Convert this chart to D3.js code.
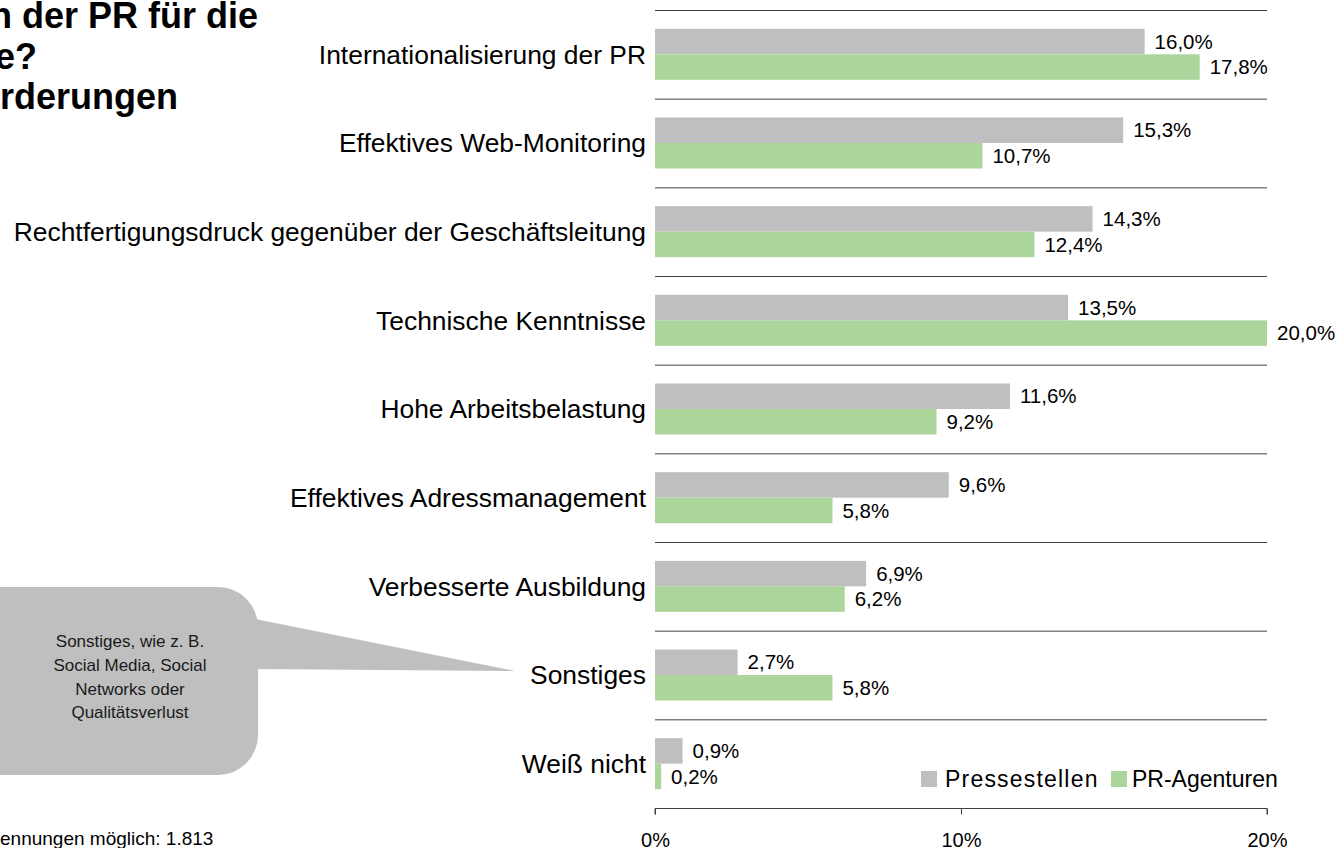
<!DOCTYPE html>
<html><head><meta charset="utf-8">
<script src="https://cdn.jsdelivr.net/npm/d3@7"></script>
<style>
html,body{margin:0;padding:0;background:#fff;overflow:hidden}
svg{display:block;font-family:"Liberation Sans",Arial,sans-serif}
</style></head>
<body>
<svg id="chart" width="1344" height="848"></svg>
<script>
const categories = [
  "Internationalisierung der PR",
  "Effektives Web-Monitoring",
  "Rechtfertigungsdruck gegenüber der Geschäftsleitung",
  "Technische Kenntnisse",
  "Hohe Arbeitsbelastung",
  "Effektives Adressmanagement",
  "Verbesserte Ausbildung",
  "Sonstiges",
  "Weiß nicht"
];
const pressestellen = [16.0, 15.3, 14.3, 13.5, 11.6, 9.6, 6.9, 2.7, 0.9];
const agenturen     = [17.8, 10.7, 12.4, 20.0, 9.2, 5.8, 6.2, 5.8, 0.2];
const seriesNames = ["Pressestellen", "PR-Agenturen"];
const xTicks = [0, 10, 20];
const titleLines = ["n der PR für die", "e?", "rderungen"];
const calloutLines = ["Sonstiges, wie z. B.", "Social Media, Social", "Networks oder", "Qualitätsverlust"];
const footnote = "ennungen möglich: 1.813";

const colors = ["#bfbfbf", "#acd59b"];
const fmt = v => v.toFixed(1).replace(".", ",") + "%";

const svg = d3.select("#chart");

const x = d3.scaleLinear().domain([0, 20]).range([655, 1267]);
const y = d3.scaleBand().domain(categories).range([10, 808]).padding(0);
const sub = d3.scaleBand().domain(seriesNames).range([0, 51]);

// title (cropped at the left edge, as in the reference)
svg.append("g").selectAll("text").data(titleLines).join("text")
  .attr("x", (d, i) => [-10, -5, 0][i])
  .attr("y", (d, i) => 28 + i * 40.5)
  .attr("font-size", 36).attr("font-weight", "bold").attr("fill", "#000")
  .text(d => d);

// grid lines at band tops
svg.append("g").selectAll("line").data(categories).join("line")
  .attr("x1", x(0)).attr("x2", x(20))
  .attr("y1", d => y(d) + 0.5).attr("y2", d => y(d) + 0.5)
  .attr("stroke", "#404040").attr("stroke-width", 1);

// bars
const rows = categories.map((c, i) => ({c, vals: [pressestellen[i], agenturen[i]]}));
const groups = svg.append("g").selectAll("g").data(rows).join("g")
  .attr("transform", d => `translate(0,${y(d.c) + (y.bandwidth() - sub.range()[1]) / 2})`);
groups.selectAll("rect").data(d => d.vals.map((v, k) => ({v, k}))).join("rect")
  .attr("x", x(0))
  .attr("y", d => sub(seriesNames[d.k]))
  .attr("width", d => x(d.v) - x(0))
  .attr("height", sub.bandwidth())
  .attr("fill", d => colors[d.k]);
groups.selectAll("text").data(d => d.vals.map((v, k) => ({v, k}))).join("text")
  .attr("x", d => x(d.v) + 10)
  .attr("y", d => sub(seriesNames[d.k]) + sub.bandwidth() / 2)
  .attr("dy", "0.35em")
  .attr("font-size", 20.5).attr("fill", "#000")
  .text(d => fmt(d.v));

// category labels
svg.append("g").selectAll("text").data(categories).join("text")
  .attr("x", 646).attr("y", d => y(d) + y.bandwidth() / 2)
  .attr("dy", "0.35em").attr("text-anchor", "end")
  .attr("font-size", 26.4).attr("fill", "#000")
  .text(d => d);

// x axis
const xAxis = d3.axisBottom(x).tickValues(xTicks).tickFormat(d => d + "%").tickSize(6).tickPadding(18);
const ax = svg.append("g").attr("transform", "translate(0,808.5)").call(xAxis);
ax.select(".domain").attr("stroke", "#404040").attr("d", `M${x(0)},6V0H${x(20)}V6`);
ax.selectAll(".tick line").attr("stroke", "#404040");
ax.selectAll(".tick text").attr("font-size", 20).attr("font-family", "Liberation Sans, Arial, sans-serif").attr("fill", "#000");

// legend
const legend = svg.append("g");
const legX = [921, 1111];
seriesNames.forEach((s, k) => {
  legend.append("rect").attr("x", legX[k]).attr("y", 771).attr("width", 16).attr("height", 16).attr("fill", colors[k]);
  legend.append("text").attr("x", legX[k] + (k === 0 ? 24 : 21)).attr("y", 787)
    .attr("font-size", 23).attr("letter-spacing", k === 0 ? 1.2 : 0).attr("fill", "#000").text(s);
});

// callout
const co = svg.append("g");
co.append("path")
  .attr("d", "M250,618 L515,671 L250,669 Z")
  .attr("fill", "#bfbfbf");
co.append("rect").attr("x", -60).attr("y", 587).attr("width", 318).attr("height", 188)
  .attr("rx", 40).attr("fill", "#bfbfbf");
co.selectAll("text").data(calloutLines).join("text")
  .attr("x", 130).attr("y", (d, i) => 641 + i * 23.8).attr("dy", "0.35em")
  .attr("text-anchor", "middle").attr("font-size", 17).attr("fill", "#1a1a1a")
  .text(d => d);

// footnote (cropped)
svg.append("text").attr("x", 0).attr("y", 845).attr("font-size", 19).attr("fill", "#000").text(footnote);
</script>
</body></html>
